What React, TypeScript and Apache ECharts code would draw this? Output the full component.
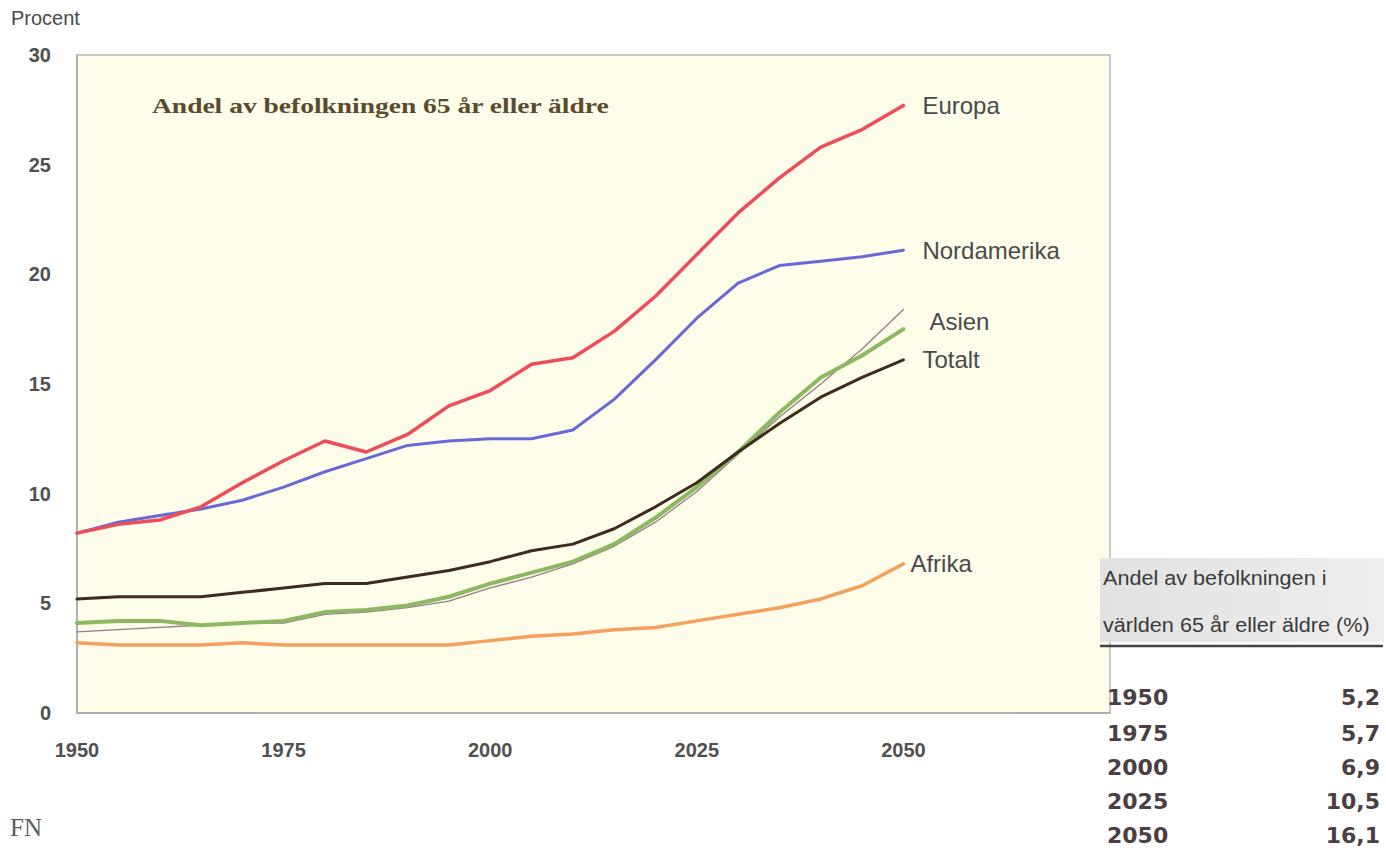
import React, { useEffect, useRef } from "react";
import * as echarts from "echarts";

const years = [1950, 1955, 1960, 1965, 1970, 1975, 1980, 1985, 1990, 1995, 2000, 2005, 2010, 2015, 2020, 2025, 2030, 2035, 2040, 2045, 2050];
const europa = [8.2, 8.6, 8.8, 9.4, 10.5, 11.5, 12.4, 11.9, 12.7, 14.0, 14.7, 15.9, 16.2, 17.4, 19.0, 20.9, 22.8, 24.4, 25.8, 26.6, 27.7];
const nordamerika = [8.2, 8.7, 9.0, 9.3, 9.7, 10.3, 11.0, 11.6, 12.2, 12.4, 12.5, 12.5, 12.9, 14.3, 16.1, 18.0, 19.6, 20.4, 20.6, 20.8, 21.1];
const latinamerika = [3.7, 3.8, 3.9, 4.0, 4.1, 4.1, 4.5, 4.6, 4.8, 5.1, 5.7, 6.2, 6.8, 7.6, 8.7, 10.1, 11.8, 13.5, 15.0, 16.6, 18.4];
const asien = [4.1, 4.2, 4.2, 4.0, 4.1, 4.2, 4.6, 4.7, 4.9, 5.3, 5.9, 6.4, 6.9, 7.7, 8.9, 10.3, 11.9, 13.7, 15.3, 16.3, 17.5];
const totalt = [5.2, 5.3, 5.3, 5.3, 5.5, 5.7, 5.9, 5.9, 6.2, 6.5, 6.9, 7.4, 7.7, 8.4, 9.4, 10.5, 11.9, 13.2, 14.4, 15.3, 16.1];
const afrika = [3.2, 3.1, 3.1, 3.1, 3.2, 3.1, 3.1, 3.1, 3.1, 3.1, 3.3, 3.5, 3.6, 3.8, 3.9, 4.2, 4.5, 4.8, 5.2, 5.8, 6.8];

const xTickLabels = ["1950", "1975", "2000", "2025", "2050"];
const yTicks = [0, 5, 10, 15, 20, 25, 30];

const tableYears = ["1950", "1975", "2000", "2025", "2050"];
const tableValues = ["5,2", "5,7", "6,9", "10,5", "16,1"];

const pairs = (vals: number[]) => years.map((y, i) => [y, vals[i]]);

export default function App() {
  const ref = useRef<HTMLDivElement>(null);
  useEffect(() => {
    if (!ref.current) return;
    const chart = echarts.init(ref.current, undefined, { renderer: "svg" });
    const labelStyle = (offset: number[], distance = 18) => ({
      show: true,
      formatter: "{a}",
      color: "#4a4a4a",
      fontSize: 24,
      fontFamily: "Liberation Sans",
      distance,
      offset,
    });
    const mk = (name: string, vals: number[], color: string, width: number, label: any) => ({
      name,
      type: "line",
      data: pairs(vals),
      showSymbol: false,
      symbol: "none",
      lineStyle: { color, width, cap: "round", join: "round" },
      endLabel: label,
      z: 3,
    });
    const rowYs = [697, 733, 767, 801, 835];
    const headerStyle = (text: string) => ({
      text,
      fontSize: 21,
      fontFamily: "Liberation Sans",
      fill: "#3a3a3a",
      textVerticalAlign: "middle",
      letterSpacing: -0.3,
    });
    const graphics: any[] = [
      { type: "text", left: 11, top: 8, style: { text: "Procent", fontSize: 20, fontFamily: "Liberation Sans", fill: "#4a4a4a" } },
      { type: "text", x: 152, y: 105, scaleX: 1.25, style: { text: "Andel av befolkningen 65 år eller äldre", fontSize: 22, fontWeight: "bold", fontFamily: "Liberation Serif", fill: "#5a4b2c", textVerticalAlign: "middle" } },
      { type: "text", left: 10, top: 815, style: { text: "FN", fontSize: 25, fontFamily: "Liberation Serif", fill: "#606060" } },
      {
        type: "rect",
        shape: { x: 1100, y: 558, width: 284, height: 84 },
        style: {
          fill: new echarts.graphic.LinearGradient(0, 0, 1, 0, [
            { offset: 0, color: "#e2e2e2" },
            { offset: 1, color: "#eeeeee" },
          ]),
        },
        z: 10,
      },
      { type: "text", x: 1103, y: 578, scaleX: 1.03, style: headerStyle("Andel av befolkningen i"), z: 11 },
      { type: "text", x: 1103, y: 625, scaleX: 1.03, style: headerStyle("världen 65 år eller äldre (%)"), z: 11 },
      { type: "line", shape: { x1: 1100, y1: 646, x2: 1383, y2: 646 }, style: { stroke: "#444", lineWidth: 2.5 }, z: 11 },
    ];
    tableYears.forEach((yr, i) => {
      graphics.push({ type: "text", x: 1107, y: rowYs[i], style: { text: yr, fontSize: 22, fontWeight: "bold", fontFamily: "DejaVu Sans", fill: "#4a3f42", textVerticalAlign: "middle", letterSpacing: -1 }, z: 11 });
      graphics.push({ type: "text", x: 1380, y: rowYs[i], style: { text: tableValues[i], fontSize: 22, fontWeight: "bold", fontFamily: "DejaVu Sans", fill: "#4a3f42", textAlign: "right", textVerticalAlign: "middle", letterSpacing: -1 }, z: 11 });
    });

    chart.setOption({
      animation: false,
      backgroundColor: "#ffffff",
      grid: {
        left: 77,
        top: 55,
        right: 276,
        bottom: 138,
        show: true,
        backgroundColor: "#fdfde9",
        borderColor: "#b8b8b8",
        borderWidth: 1.5,
      },
      xAxis: {
        type: "value",
        min: 1950,
        max: 2075,
        interval: 25,
        axisLine: { show: true, lineStyle: { color: "#a8a8a8", width: 1.5 } },
        axisTick: { show: false },
        splitLine: { show: false },
        axisLabel: {
          color: "#505050",
          fontSize: 20,
          fontWeight: "bold",
          fontFamily: "Liberation Sans",
          margin: 27,
          formatter: (v: number) => (xTickLabels.includes(String(v)) ? String(v) : ""),
        },
      },
      yAxis: {
        type: "value",
        min: 0,
        max: 30,
        interval: 5,
        axisLine: { show: true, lineStyle: { color: "#a8a8a8", width: 1.5 } },
        axisTick: { show: false },
        splitLine: { show: false },
        axisLabel: {
          color: "#505050",
          fontSize: 20,
          fontWeight: "bold",
          fontFamily: "Liberation Sans",
          margin: 26,
          formatter: (v: number) => (yTicks.includes(v) ? String(v) : ""),
        },
      },
      series: [
        mk("Afrika", afrika, "#f4a15f", 3.5, labelStyle([0, 0], 7)),
        mk("Latinamerika", latinamerika, "#957c8a", 1.3, { show: false }),
        mk("Asien", asien, "#8cb862", 4, labelStyle([4, -8], 22)),
        mk("Totalt", totalt, "#3d2b1c", 3, labelStyle([0, 0], 19)),
        mk("Nordamerika", nordamerika, "#6868d6", 3, labelStyle([0, 0], 19)),
        mk("Europa", europa, "#ee4c58", 3.5, labelStyle([0, 0], 19)),
      ],
      graphic: graphics,
    });
    return () => chart.dispose();
  }, []);
  return <div ref={ref} style={{ position: "fixed", left: 0, top: 0, width: 1386, height: 851 }} />;
}
